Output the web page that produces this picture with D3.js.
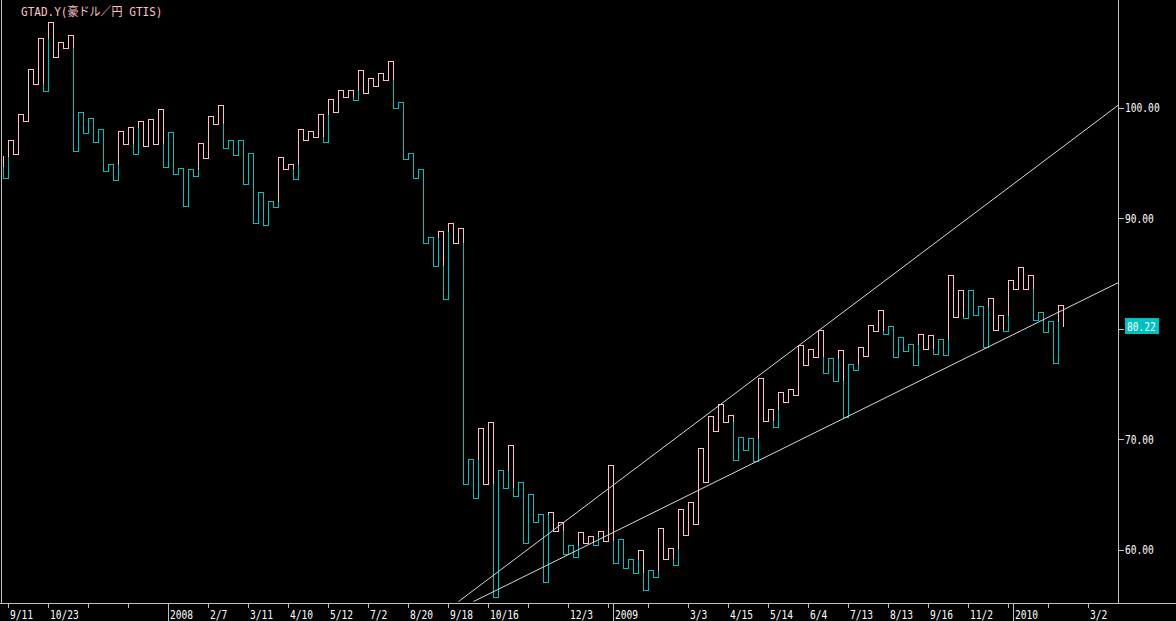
<!DOCTYPE html>
<html>
<head>
<meta charset="utf-8">
<script src="https://cdn.jsdelivr.net/npm/d3@7"></script>
<style>
  body { margin: 0; background: #000; }
  svg { display: block; }
  text { font-family: "DejaVu Sans Mono", "Noto Sans CJK JP", monospace; }
</style>
</head>
<body>
<svg width="1176" height="621"></svg>
<script>
// kagi reversal levels, one per turn (the line goes levels[k] -> levels[k+1] at column k)
var levels = [
  95.59, 93.66, 97.04, 95.83, 99.37, 98.76, 103.47, 102.17, 106.25, 101.50,
  107.70, 104.53, 105.94, 105.34, 106.55, 96.04, 99.55, 97.65, 99.09, 96.92,
  98.01, 94.29, 94.93, 93.48, 97.83, 96.74, 98.28, 95.83, 98.82, 96.52,
  99.00, 96.74, 99.82, 94.66, 97.74, 94.02, 94.53, 91.13, 94.39, 93.84,
  96.83, 95.47, 99.21, 98.55, 100.21, 96.38, 97.10, 95.74, 97.10, 93.12,
  95.92, 89.59, 92.39, 89.40, 91.54, 90.97, 95.56, 94.39, 94.93, 93.57,
  98.01, 97.10, 97.88, 97.37, 99.37, 96.92, 100.78, 99.60, 101.54, 100.91,
  101.54, 100.69, 103.35, 101.27, 102.63, 101.99, 103.08, 102.45, 104.17, 100.00,
  100.51, 95.38, 95.92, 93.66, 94.39, 87.77, 88.32, 85.69, 88.86, 82.70,
  89.59, 87.77, 89.07, 65.95, 68.21, 64.68, 71.02, 65.95, 71.56, 55.72,
  67.22, 65.59, 69.48, 64.86, 66.09, 60.61, 65.04, 62.51, 63.23, 57.07,
  63.41, 61.69, 62.51, 59.61, 60.43, 59.34, 61.57, 60.61, 61.20, 60.43,
  61.69, 60.79, 67.67, 58.80, 60.97, 58.34, 59.16, 57.89, 59.97, 56.35,
  58.16, 57.53, 61.96, 59.16, 60.15, 58.61, 63.69, 61.33, 64.32, 62.33,
  69.21, 66.13, 72.11, 70.75, 73.19, 71.56, 72.20, 68.12, 70.21, 69.03,
  70.12, 68.03, 75.55, 71.65, 72.72, 71.05, 74.24, 73.34, 74.55, 73.95,
  78.47, 76.73, 78.11, 77.41, 79.86, 76.00, 77.36, 75.24, 78.05, 72.02,
  76.82, 76.27, 78.32, 77.54, 80.35, 79.81, 81.71, 79.53, 80.26, 77.45,
  79.26, 77.99, 78.63, 76.73, 79.53, 78.18, 79.44, 77.69, 79.08, 77.63,
  84.88, 81.04, 83.52, 80.98, 83.52, 81.25, 82.03, 78.32, 82.76, 79.83,
  81.19, 79.74, 84.42, 83.61, 85.60, 83.61, 84.88, 80.80, 81.49, 79.72,
  80.67, 76.91, 82.16, 80.22
]
// waist level before the first visible line
var startWaist = 94.60

var dateLabels = ['9/11', '10/23', '', '', '', '2/7', '3/11', '4/10', '5/12', '7/2', '8/20', '9/18', '10/16', '',
                  '12/3', '', '', '3/3', '4/15', '5/14', '6/4', '7/13', '8/13', '9/16', '11/2', '', '', '3/2']
var yearLabels = ['2008', '2009', '2010']
var yearColumns = [33, 122, 202]
var priceTicks = [60, 70, 80, 90, 100]

// trend lines as [column, price] pairs
var upperTrend = [[91.0, 55.29], [222.94, 100.21]]
var lowerTrend = [[94.0, 55.29], [222.94, 84.15]]

var pink = '#ffc0c8'
var cyan = '#00c0c0'
var grey = '#c0c0c0'

var svg = d3.select('svg')
var W = 1176, H = 621
var plotRight = 1118.5, plotBottom = 603.5

svg.append('rect').attr('width', W).attr('height', H).attr('fill', '#000')

var x = d3.scaleLinear().domain([0, 1]).range([3.5, 8.5])
var y = d3.scaleLinear().domain([60, 100]).range([549.5, 107.5])

svg.append('clipPath').attr('id', 'plot')
  .append('rect').attr('x', 2).attr('y', 0).attr('width', plotRight - 2).attr('height', plotBottom)

var chart = svg.append('g').attr('clip-path', 'url(#plot)')

// build kagi segments, colour flips when the previous shoulder / waist is broken
var segs = []
var yang = true
for (var k = 0; k < levels.length - 1; k++) {
  var a = levels[k], b = levels[k + 1]
  var ref = k == 0 ? startWaist : levels[k - 1]
  if (b > a && !yang && b > ref) {
    segs.push({x1: k, x2: k, y1: a, y2: ref, c: cyan})
    segs.push({x1: k, x2: k, y1: ref, y2: b, c: pink})
    yang = true
  } else if (b < a && yang && b < ref) {
    segs.push({x1: k, x2: k, y1: a, y2: ref, c: pink})
    segs.push({x1: k, x2: k, y1: ref, y2: b, c: cyan})
    yang = false
  } else {
    segs.push({x1: k, x2: k, y1: a, y2: b, c: yang ? pink : cyan})
  }
  if (k < levels.length - 2) {
    segs.push({x1: k, x2: k + 1, y1: b, y2: b, c: yang ? pink : cyan})
  }
}

chart.selectAll('line.kagi')
  .data(segs)
  .join('line')
  .attr('class', 'kagi')
  .attr('x1', d => x(d.x1))
  .attr('x2', d => x(d.x2))
  .attr('y1', d => Math.round(y(d.y1)) + 0.5)
  .attr('y2', d => Math.round(y(d.y2)) + 0.5)
  .attr('stroke', d => d.c)
  .attr('stroke-width', 1)
  .attr('stroke-linecap', 'square')
  .attr('shape-rendering', 'crispEdges')

var trendLine = d3.line().x(d => x(d[0])).y(d => y(d[1]))
chart.selectAll('path.trend')
  .data([upperTrend, lowerTrend])
  .join('path')
  .attr('class', 'trend')
  .attr('d', trendLine)
  .attr('fill', 'none')
  .attr('stroke', '#d8d8d8')
  .attr('stroke-width', 1)

// frame
svg.append('line').attr('x1', 1.5).attr('x2', 1.5).attr('y1', 0).attr('y2', plotBottom)
  .attr('stroke', grey).attr('shape-rendering', 'crispEdges')
svg.append('line').attr('x1', plotRight).attr('x2', plotRight).attr('y1', 0).attr('y2', plotBottom)
  .attr('stroke', grey).attr('shape-rendering', 'crispEdges')
svg.append('line').attr('x1', 0).attr('x2', W).attr('y1', plotBottom).attr('y2', plotBottom)
  .attr('stroke', grey).attr('shape-rendering', 'crispEdges')

// narrow bitmap-like labels
function label(g, px, py, txt, col) {
  return g.append('text')
    .attr('transform', 'translate(' + px + ',' + py + ') scale(0.8,1)')
    .attr('fill', col || '#fff')
    .attr('font-size', 12)
    .text(txt)
}

// bottom axis: a tick every 8 columns
var dateCols = dateLabels.map((d, i) => 1 + i * 8)
var xAxis = svg.append('g')
xAxis.selectAll('line')
  .data(dateCols)
  .join('line')
  .attr('x1', d => x(d)).attr('x2', d => x(d))
  .attr('y1', plotBottom).attr('y2', plotBottom + 4)
  .attr('stroke', grey).attr('shape-rendering', 'crispEdges')
dateLabels.forEach((d, i) => label(xAxis, x(dateCols[i]) + 1.5, 619, d))

var years = svg.append('g')
years.selectAll('line')
  .data(yearColumns)
  .join('line')
  .attr('x1', d => x(d)).attr('x2', d => x(d))
  .attr('y1', plotBottom).attr('y2', H)
  .attr('stroke', grey).attr('shape-rendering', 'crispEdges')
yearLabels.forEach((d, i) => label(years, x(yearColumns[i]) + 1.5, 619, d))

// right price axis
var last = levels[levels.length - 1]
var yAxis = svg.append('g')
yAxis.selectAll('line')
  .data(priceTicks)
  .join('line')
  .attr('x1', plotRight).attr('x2', plotRight + 5)
  .attr('y1', d => Math.round(y(d)) + 0.5).attr('y2', d => Math.round(y(d)) + 0.5)
  .attr('stroke', grey).attr('shape-rendering', 'crispEdges')
priceTicks.filter(d => Math.abs(y(d) - y(last)) > 12)
  .forEach(d => label(yAxis, 1125, y(d) + 4.5, d.toFixed(2)))

// current price box
svg.append('rect')
  .attr('x', 1125).attr('y', Math.round(y(last)) - 8)
  .attr('width', 34).attr('height', 16)
  .attr('fill', cyan)
label(svg, 1127, y(last) + 4.5, last.toFixed(2))

svg.append('text')
  .attr('transform', 'translate(21,16) scale(0.92,1)')
  .attr('fill', pink)
  .attr('font-size', 12)
  .text('GTAD.Y(豪ドル／円 GTIS)')
</script>
</body>
</html>
